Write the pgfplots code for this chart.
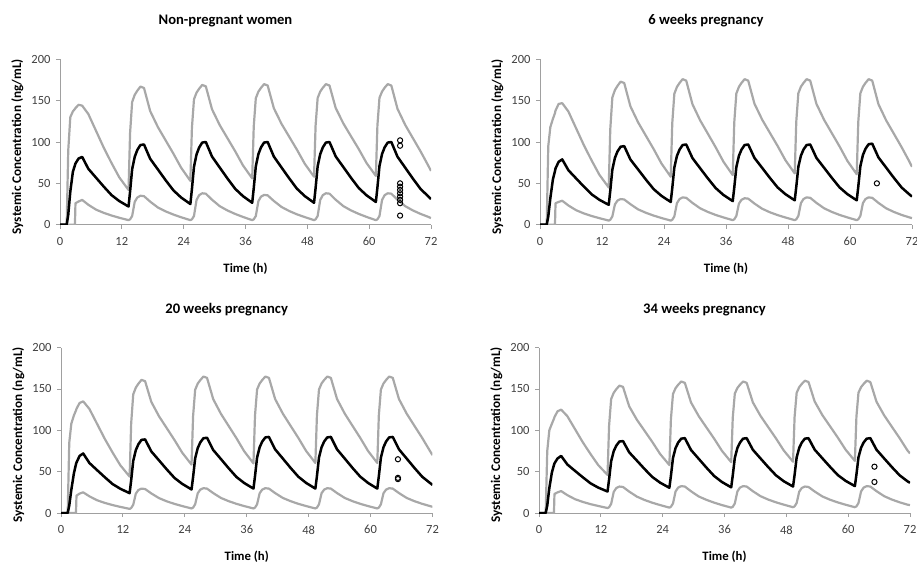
\documentclass[border=0pt]{standalone}
\usepackage{fontspec}
\setmainfont{Carlito}
\usepackage{pgfplots}
\usepackage{pgfplotstable}
\pgfplotsset{compat=1.18}
\definecolor{simgray}{HTML}{A8A8A8}
\definecolor{axgray}{HTML}{A0A0A0}
\definecolor{ticktext}{HTML}{404040}

% t = time (h), lo = 5th percentile, med = median, hi = 95th percentile
\pgfplotstableread{
t lo med hi
0 0 0 0
1.3 0 0 0
1.6 0 12 90
2.0 0 40 130
2.5 0 64 137
2.9 0 72 140
3.0 26 74 141
3.6 28 80 145
4.3 30 82 144
5.5 24.1 67.6 133.8
7 18.2 56.8 113.4
8.5 14.3 46 93
10 11.1 35.8 74.6
11.5 8.4 28.6 57.3
13.3 5.5 22 42
13.6 6.5 40 110.8
14.0 10.5 67 148.3
14.5 27.6 82 157
15.0 32.9 90.3 162
15.6 35 96.3 167
16.3 34.5 97 165.3
17.5 27.9 79.7 137.4
19 20.8 66.8 118
20.5 16.1 53.8 102
22 12.3 41.6 86
23.5 9.0 32.9 69
25.3 5.5 25 53
25.6 6.5 43 116.8
26.0 10.5 70 151.6
26.5 29.9 85 159.7
27.0 35.7 93.3 164.4
27.6 38 99.3 169
28.3 37.5 100 167.3
29.5 30.2 82.4 139.6
31 22.4 69.1 120.4
32.5 17.2 55.9 104.6
34 13 43.4 88.8
35.5 9.4 34.6 71.8
37.3 5.5 26.5 56
37.6 6.5 44.1 118.7
38.0 10.5 70.6 152.9
38.5 28.4 85.3 160.9
39.0 33.9 93.4 165.4
39.6 36 99.3 170
40.3 35.5 100 168.3
41.5 28.7 82.4 140.9
43 21.4 69.1 121.8
44.5 16.5 55.9 106.2
46 12.5 43.4 90.5
47.5 9.2 34.6 73.7
49.3 5.5 26.5 58
49.6 6.5 44.1 119.6
50.0 10.5 70.6 153.2
50.5 29.9 85.3 161
51.0 35.7 93.4 165.5
51.6 38 99.3 170
52.3 37.5 100 168.3
53.5 30.2 82.6 141.1
55 22.4 69.6 122.3
56.5 17.2 56.5 106.7
58 13 44.2 91.2
59.5 9.4 35.5 74.5
61.3 5.5 27.5 59
61.6 6.5 44.9 120
62.0 10.5 71 153.4
62.5 29.9 85.5 161
63.0 35.7 93.5 165.6
63.6 38 99.3 170
64.3 37.5 100 168.3
65.5 30.2 82.2 140.1
67 22.4 68.9 120.6
68.5 17.2 55.6 104.5
70 13 43 88.4
71.5 9.4 34.1 71.1
72 8 31 65
}\npw

\pgfplotstableread{
t lo med hi
0 0 0 0
1.3 0 0 0
1.6 0 10 95
2.0 0 32 118
2.5 0 55 128
2.9 0 65 135
3.0 26 68 138
3.6 27.5 76 146
4.3 29 79 147
5.5 23.2 65.8 136.8
7 17.5 55.9 116.4
8.5 13.6 46 96
10 10.5 36.7 77.6
11.5 7.9 30.1 60.3
13.3 5 24 45
13.6 6 41 115.4
14.0 10 66.6 153.8
14.5 24.5 80.8 162.8
15.0 29.2 88.6 167.9
15.6 31 94.3 173
16.3 30.5 95 171.3
17.5 24.8 78.8 143.1
19 18.5 66.7 123.6
20.5 14.4 54.5 107.5
22 11 43 91.4
23.5 8.1 34.9 74.1
25.3 5 27.5 58
25.6 6 44.2 122.9
26.0 10 69.2 158.3
26.5 26 83.1 166.6
27.0 31 90.7 171.3
27.6 33 96.3 176
28.3 32.5 97 174.2
29.5 26.4 80.6 145.8
31 19.8 68.2 126.1
32.5 15.4 55.9 109.9
34 11.8 44.3 93.6
35.5 8.8 36 76.2
37.3 5.5 28.5 60
37.6 6.5 44.9 123.8
38.0 10.5 69.6 158.6
38.5 25.4 83.3 166.7
39.0 30.1 90.8 171.4
39.6 32 96.3 176
40.3 31.5 97 174.2
41.5 25.6 80.8 146.4
43 19.3 68.7 127
44.5 15 56.5 111
46 11.6 45 95.1
47.5 8.7 36.9 78
49.3 5.5 29.5 62
49.6 6.5 45.7 124.7
50.0 10.5 70 158.9
50.5 26.1 83.5 166.9
51.0 31.1 90.9 171.4
51.6 33 96.3 176
52.3 32.5 97 174.2
53.5 26.4 80.8 146.1
55 19.8 68.7 126.6
56.5 15.4 56.5 110.5
58 11.8 45 94.4
59.5 8.8 36.9 77.1
61.3 5.5 29.5 61
61.6 6.5 45.9 124.3
62.0 10.5 70.6 158.8
62.5 26.1 84.3 166.8
63.0 31.1 91.8 171.4
63.6 33 97.3 176
64.3 32.5 98 174.2
65.5 26.4 81.4 145.8
67 19.8 69 126.1
68.5 15.4 56.6 109.9
70 11.8 44.9 93.6
71.5 8.8 36.6 76.2
72 8 34 70
}\wsix

\pgfplotstableread{
t lo med hi
0 0 0 0
1.3 0 0 0
1.6 0 9 85
2.0 0 28 108
2.5 0 48 118
2.9 0 59 124
3.0 21 61 126
3.6 23.5 69 133
4.3 25 72 135
5.5 20.2 60.5 125.9
7 15.4 51.8 107.7
8.5 12.2 43.2 89.5
10 9.6 35 73.1
11.5 7.4 29.3 57.7
13.3 5 24 44
13.6 6 39.6 108.4
14.0 10 63 143.5
14.5 23.4 76 151.6
15.0 27.8 83.2 156.3
15.6 29.5 88.4 161
16.3 29 89 159.4
17.5 23.7 74.5 134.4
19 18 63.6 116.9
20.5 14.1 52.7 102.6
22 11 42.4 88.2
23.5 8.4 35.2 72.9
25.3 5.5 28.5 58.5
25.6 6.5 43.5 117.1
26.0 10.5 66 149
26.5 23.9 78.5 156.5
27.0 28.3 85.4 160.7
27.6 30 90.4 165
28.3 29.5 91 163.4
29.5 24.1 76.2 137.7
31 18.2 65.2 119.9
32.5 14.3 54.1 105.2
34 11.1 43.6 90.5
35.5 8.4 36.3 74.7
37.3 5.5 29.5 60
37.6 6.5 44.5 117.8
38.0 10.5 67 149.3
38.5 23.9 79.5 156.6
39.0 28.3 86.4 160.8
39.6 30 91.4 165
40.3 29.5 92 163.4
41.5 24.1 77 137.8
43 18.2 65.8 120.1
44.5 14.3 54.5 105.4
46 11.1 43.9 90.8
47.5 8.4 36.4 75.1
49.3 5.5 29.5 60.5
49.6 6.5 44.5 118
50.0 10.5 67 149.3
50.5 23.9 79.5 156.6
51.0 28.3 86.4 160.8
51.6 30 91.4 165
52.3 29.5 92 163.4
53.5 24.1 77 137.8
55 18.2 65.8 120.1
56.5 14.3 54.5 105.4
58 11.1 43.9 90.8
59.5 8.4 36.4 75.1
61.3 5.5 29.5 60.5
61.6 6.5 44.5 118
62.0 10.5 67 149.3
62.5 23.9 79.5 156.6
63.0 28.3 86.4 160.8
63.6 30 91.4 165
64.3 29.5 92 163.4
65.5 24.1 77 137.8
67 18.2 65.8 120.1
68.5 14.3 54.5 105.4
70 11.1 43.9 90.8
71.5 8.4 36.4 75.1
72 7.5 34 70
}\wtwenty

\pgfplotstableread{
t lo med hi
0 0 0 0
1.3 0 0 0
1.6 0 9 75
2.0 0 30 100
2.5 0 49 108
2.9 0 58 114
3.0 23 60 116
3.6 25 66 123
4.3 26.5 69 125
5.5 21.6 58.7 117.1
7 16.7 50.9 101.3
8.5 13.4 43.2 85.5
10 10.7 35.9 71.3
11.5 8.5 30.7 57.9
13.3 6 26 46
13.6 7 40.6 105.4
14.0 11 62.6 137.8
14.5 25.5 74.8 145.4
15.0 30.2 81.5 149.7
15.6 32 86.4 154
16.3 31.5 87 152.5
17.5 25.9 73.4 129
19 19.8 63.3 112.7
20.5 15.7 53.1 99.3
22 12.4 43.5 85.8
23.5 9.6 36.7 71.4
25.3 6.5 30.5 58
25.6 7.5 44.9 113.6
26.0 11.5 66.5 143.9
26.5 26 78.5 150.9
27.0 30.7 85.1 155
27.6 32.5 89.9 159
28.3 32 90.5 157.4
29.5 26.3 76.2 133.7
31 20 65.5 117.1
32.5 15.9 54.8 103.4
34 12.5 44.7 89.8
35.5 9.6 37.5 75.2
37.3 6.5 31 61.5
37.6 7.5 45.3 115.1
38.0 11.5 66.7 144.4
38.5 26 78.6 151.2
39.0 30.7 85.1 155.1
39.6 32.5 89.9 159
40.3 32 90.5 157.4
41.5 26.4 76.5 133.8
43 20.3 65.9 117.3
44.5 16.2 55.4 103.7
46 12.9 45.5 90.1
47.5 10.1 38.4 75.6
49.3 7 32 62
49.6 8 46 115.9
50.0 12 67.1 145.3
50.5 25.8 78.8 152.2
51.0 30.3 85.2 156.1
51.6 32 89.9 160
52.3 31.5 90.5 158.4
53.5 26 76.6 134.8
55 20 66.1 118.3
56.5 16 55.7 104.7
58 12.8 45.8 91.1
59.5 10 38.9 76.6
61.3 7 32.5 63
61.6 8 46.4 116.4
62.0 12 67.3 145.5
62.5 26.1 78.9 152.2
63.0 30.7 85.3 156.1
63.6 32.5 89.9 160
64.3 32 90.5 158.4
65.5 26.4 76.5 134.5
67 20.3 65.9 117.9
68.5 16.2 55.4 104.1
70 12.9 45.5 90.4
71.5 10.1 38.4 75.7
72 9.5 36.5 72
}\wthirtyfour

% observed concentrations
\pgfplotstableread{
t c
66 102
66 95.5
66 50
66 46
66 42
66 38
66 34
66 30
66 26
66 11
}\obsnpw
\pgfplotstableread{
t c
65.2 50
}\obssix
\pgfplotstableread{
t c
65.3 65
65.3 41
65.3 42.5
}\obstwenty
\pgfplotstableread{
t c
65.1 56
65.1 37.5
}\obsthirtyfour

\pgfplotsset{
  every non boxed x axis/.style={},
  every non boxed y axis/.style={},
  pkpanel/.style={
    scale only axis, height=165.4pt,
    xmin=0, xmax=72, ymin=0, ymax=200,
    enlargelimits=false,
    xtick={0,12,24,36,48,60,72}, ytick={0,50,100,150,200},
    axis lines=left,
    axis line style={draw=axgray, line width=0.9pt, -},
    tick style={draw=axgray, line width=0.9pt},
    tick align=outside, major tick length=4pt,
    tick label style={font=\fontsize{12.5}{14}\selectfont, text=ticktext},
    xticklabel style={yshift=-5pt},
    yticklabel style={xshift=-2pt},
    /pgf/number format/assume math mode=true,
    xlabel={Time (h)},
    ylabel={Systemic Concentration (ng/mL)},
    xlabel style={font=\bfseries\fontsize{12.8}{14}\selectfont,
      at={(axis description cs:0.5,-0.266)}, anchor=center},
    ylabel style={font=\bfseries\fontsize{13.2}{15}\selectfont,
      at={(axis description cs:-0.115,0.472)}, anchor=center},
    title style={font=\bfseries\fontsize{14.6}{17}\selectfont,
      at={(axis description cs:0.446,1.195)}, anchor=center},
  },
  pct/.style={simgray, line width=2.2pt, line join=round},
  medline/.style={black, line width=2.5pt, line join=round},
  obs/.style={only marks, mark=o, mark size=2.6pt, black, mark options={line width=1pt}},
}

\begin{document}
\begin{tikzpicture}
\useasboundingbox (0,0) rectangle (917pt,-564pt);

\begin{axis}[pkpanel, width=371pt, at={(60pt,-224.7pt)}, anchor=south west,
  title={Non-pregnant women}]
\addplot[pct] table[x=t, y=hi] {\npw};
\addplot[pct] table[x=t, y=lo] {\npw};
\addplot[medline] table[x=t, y=med] {\npw};
\addplot[obs] table[x=t, y=c] {\obsnpw};
\end{axis}

\begin{axis}[pkpanel, width=372pt, at={(540pt,-224.7pt)}, anchor=south west,
  title={6 weeks pregnancy}]
\addplot[pct] table[x=t, y=hi] {\wsix};
\addplot[pct] table[x=t, y=lo] {\wsix};
\addplot[medline] table[x=t, y=med] {\wsix};
\addplot[obs] table[x=t, y=c] {\obssix};
\end{axis}

\begin{axis}[pkpanel, width=371.5pt, at={(61pt,-513pt)}, anchor=south west,
  title={20 weeks pregnancy}]
\addplot[pct] table[x=t, y=hi] {\wtwenty};
\addplot[pct] table[x=t, y=lo] {\wtwenty};
\addplot[medline] table[x=t, y=med] {\wtwenty};
\addplot[obs] table[x=t, y=c] {\obstwenty};
\end{axis}

\begin{axis}[pkpanel, width=371pt, at={(539pt,-513pt)}, anchor=south west,
  title={34 weeks pregnancy}]
\addplot[pct] table[x=t, y=hi] {\wthirtyfour};
\addplot[pct] table[x=t, y=lo] {\wthirtyfour};
\addplot[medline] table[x=t, y=med] {\wthirtyfour};
\addplot[obs] table[x=t, y=c] {\obsthirtyfour};
\end{axis}
\end{tikzpicture}
\end{document}
